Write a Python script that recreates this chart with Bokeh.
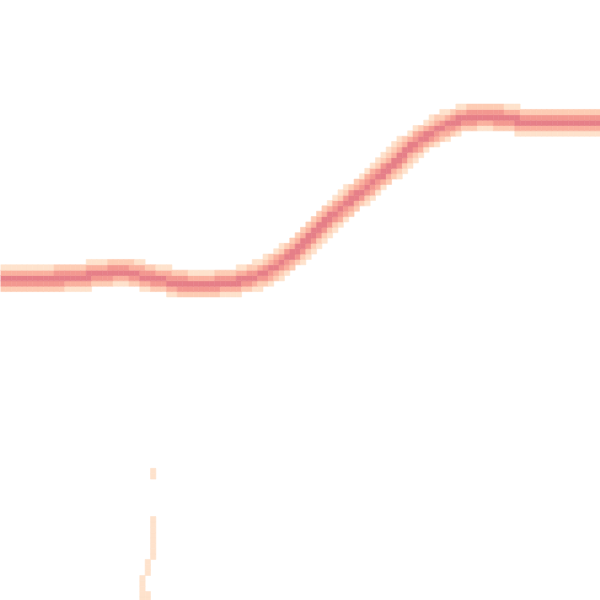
import numpy as np
from bokeh.plotting import figure
from bokeh.models import Range1d, ColumnDataSource
from bokeh.embed import file_html
from bokeh.resources import INLINE

# centreline of the dense band (data units, y upward)
curve_x = [0, 40, 70, 90, 110, 125, 135, 150, 165, 180, 210, 235, 250, 262, 272,
           282, 290, 300, 312, 323, 333, 343, 353, 365, 375, 387, 397, 405, 415,
           425, 437, 447, 457, 470, 485, 500, 520, 547, 600]
curve_y = [321, 321, 323, 325, 328, 329, 326, 323, 320, 317, 316, 319, 322, 327, 332,
           339, 345, 353, 365, 376, 386, 394, 403, 412, 421, 431, 440, 449, 457,
           464, 471, 476, 480, 483, 484, 483, 480, 478, 478]

# faint isolated trace near the bottom: bin column, y span
trace_col = [28, 28, 27, 26, 27]
trace_y0 = [22.3, 8.1, 5.1, 0.0, 0.0]
trace_y1 = [24.3, 16.1, 8.1, 4.2, 2.0]

n_bins = 112
extent = 600.0
y_offset = -1.8
palette = ["#fee2cc", "#fdccb4", "#fab09e", "#f39890", "#e67f88"]
cell = extent / n_bins

xs = np.asarray(curve_x, float)
ys = np.asarray(curve_y, float)
cx = (np.arange(n_bins) + 0.5) * cell
cy = y_offset + (np.arange(n_bins) + 0.5) * cell
CX, CY = np.meshgrid(cx, cy)
dist = np.full(CX.shape, np.inf)
for i in range(len(xs) - 1):
    ax, ay, bx, by = xs[i], ys[i], xs[i + 1], ys[i + 1]
    dx, dy = bx - ax, by - ay
    t = np.clip(((CX - ax) * dx + (CY - ay) * dy) / (dx * dx + dy * dy), 0, 1)
    d = np.hypot(CX - (ax + t * dx), CY - (ay + t * dy))
    dist = np.minimum(dist, d)
dist /= cell
level = np.zeros(CX.shape, int)
for lv, th in zip([1, 2, 3, 4, 5], [2.55, 2.05, 1.55, 1.05, 0.55]):
    level[dist < th] = lv
for c, a, b in zip(trace_col, trace_y0, trace_y1):
    for r in range(n_bins):
        yc = (y_offset + (r + 0.5) * cell) / cell
        if a <= yc <= b and level[r, c] == 0:
            level[r, c] = 1

rows, cols = np.nonzero(level)
src = ColumnDataSource(dict(
    left=cols * cell, right=(cols + 1) * cell,
    bottom=y_offset + rows * cell, top=y_offset + (rows + 1) * cell,
    color=[palette[level[r, c] - 1] for r, c in zip(rows, cols)],
))

p = figure(width=600, height=600, x_range=Range1d(0, 600), y_range=Range1d(0, 600),
           toolbar_location=None, output_backend="svg", min_border=0,
           x_axis_location=None, y_axis_location=None)
p.outline_line_color = None
p.grid.visible = False
p.background_fill_color = "white"
p.border_fill_color = "white"
p.quad(left="left", right="right", bottom="bottom", top="top", source=src,
       fill_color="color", line_color="color", line_width=0.6)

open("out.html", "w").write(file_html(p, INLINE))
